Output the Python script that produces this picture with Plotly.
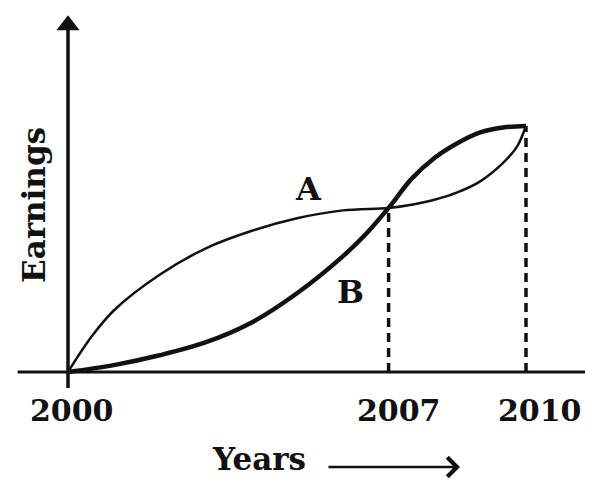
import plotly.graph_objects as go

# ---- data ----
years_a = [2000, 2000.5, 2001, 2002, 2003, 2004, 2005, 2006, 2007,
           2007.5, 2008, 2008.5, 2009, 2009.5, 2009.8, 2010]
earn_a = [0.0, 1.4, 2.5, 3.95, 5.02, 5.73, 6.25, 6.57, 6.67,
          6.8, 7.0, 7.3, 7.75, 8.5, 9.15, 10.0]

years_b = [2000, 2001, 2002, 2003, 2004, 2005, 2006, 2006.5, 2007,
           2007.5, 2008, 2008.5, 2009, 2009.5, 2010]
earn_b = [0.0, 0.28, 0.68, 1.2, 2.0, 3.2, 4.7, 5.6, 6.67,
          7.85, 8.7, 9.3, 9.74, 9.94, 10.0]

tick_years = [2000, 2007, 2010]
tick_labels = ["2000", "2007", "2010"]
mark_years = [2007, 2010]
mark_earn = [6.67, 10.0]
curve_names = ["A", "B"]
curve_label_pos = [(2005.26, 7.44), (2006.16, 3.25)]
x_title = "Years"
y_title = "Earnings"

# ---- figure geometry (page has an 8px body margin) ----
OFF = 8
W, H = 593 - OFF, 481 - OFF
X0, X1 = 1998.690, 2011.463
Y0, Y1 = -4.431, 14.797
INK = "#111111"
FONT = "DejaVu Serif"


def px(x):
    return (x - OFF) / W


def py(y):
    return 1 - (y - OFF) / H


fig = go.Figure()

# axes drawn as lines
fig.add_shape(type="line", x0=1998.9, x1=2011.6, y0=0, y1=0,
              line=dict(color=INK, width=3), layer="below")
fig.add_shape(type="line", x0=2000, x1=2000, y0=-0.65, y1=14.1,
              line=dict(color=INK, width=3.5), layer="below")
fig.add_trace(go.Scatter(x=[2000], y=[14.1], mode="markers",
                         marker=dict(symbol="triangle-up", size=20, color=INK),
                         hoverinfo="skip", showlegend=False))

# dashed drop lines
for yr, e in zip(mark_years, mark_earn):
    fig.add_trace(go.Scatter(x=[yr, yr], y=[0, e], mode="lines",
                             line=dict(color=INK, width=3.5, dash="9px,6px"),
                             hoverinfo="skip", showlegend=False))

# curves
fig.add_trace(go.Scatter(x=years_a, y=earn_a, mode="lines", name="A",
                         line=dict(color=INK, width=2.5, shape="spline", smoothing=1.0),
                         showlegend=False))
fig.add_trace(go.Scatter(x=years_b, y=earn_b, mode="lines", name="B",
                         line=dict(color=INK, width=4.5, shape="spline", smoothing=1.0),
                         showlegend=False))

annotations = []
shifts = [4, 10, 14]
for yr, lab, sh in zip(tick_years, tick_labels, shifts):
    annotations.append(dict(x=yr, y=-1.545, xref="x", yref="y", text=lab, showarrow=False,
                            xshift=sh, xanchor="center", yanchor="middle",
                            font=dict(family=FONT, size=30, color=INK, weight="bold")))
for name, (cx, cy) in zip(curve_names, curve_label_pos):
    annotations.append(dict(x=cx, y=cy, xref="x", yref="y", text=name, showarrow=False,
                            xanchor="center", yanchor="middle",
                            font=dict(family=FONT, size=32, color=INK, weight="bold")))

annotations.append(dict(x=px(259), y=py(459), xref="paper", yref="paper", text=x_title,
                        showarrow=False, xanchor="center", yanchor="middle",
                        font=dict(family=FONT, size=31, color=INK, weight="bold")))
annotations.append(dict(x=px(460), y=py(467), xref="paper", yref="paper", text="",
                        showarrow=True, ax=-133, ay=0, arrowhead=4, arrowsize=1.5,
                        arrowwidth=2.5, arrowcolor=INK, standoff=0))
annotations.append(dict(x=px(34), y=py(205), xref="paper", yref="paper", text=y_title,
                        showarrow=False, textangle=-90, xanchor="center", yanchor="middle",
                        font=dict(family=FONT, size=31, color=INK, weight="bold")))

fig.update_layout(
    width=W, height=H,
    margin=dict(l=0, r=0, t=0, b=0),
    paper_bgcolor="white", plot_bgcolor="white",
    xaxis=dict(range=[X0, X1], visible=False, fixedrange=True),
    yaxis=dict(range=[Y0, Y1], visible=False, fixedrange=True),
    annotations=annotations,
    showlegend=False,
)

fig.write_html("out.html")
